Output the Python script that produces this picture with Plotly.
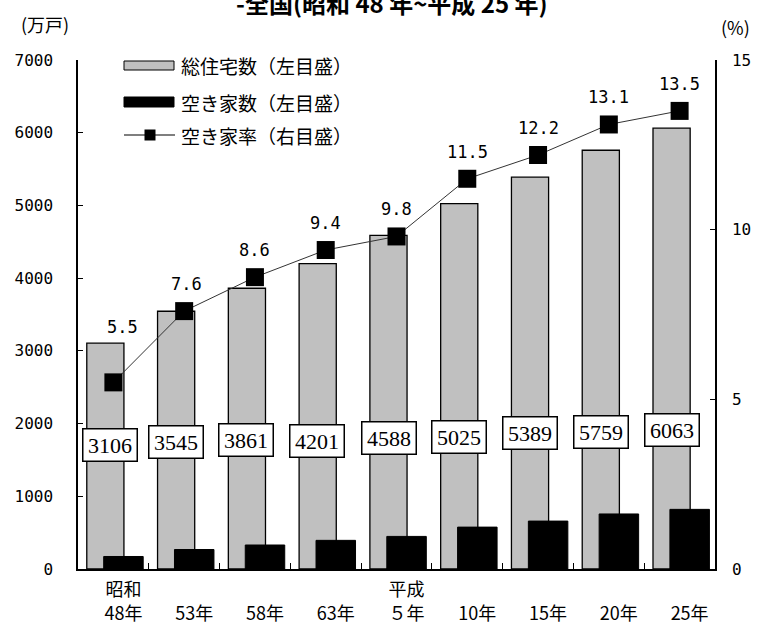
import plotly.graph_objects as go

# ---------------- data ----------------
categories = ["昭和48年", "昭和53年", "昭和58年", "昭和63年", "平成5年",
              "平成10年", "平成15年", "平成20年", "平成25年"]
tick_labels = ["昭和<br>48年", "\u3000<br>53年", "\u3000<br>58年", "\u3000<br>63年",
               "平成<br>５年", "\u3000<br>10年", "\u3000<br>15年", "\u3000<br>20年",
               "\u3000<br>25年"]
total_houses = [3106, 3545, 3861, 4201, 4588, 5025, 5389, 5759, 6063]      # 万戸
vacant_houses = [172, 268, 330, 394, 448, 576, 659, 757, 820]              # 万戸
vacancy_rate = [5.5, 7.6, 8.6, 9.4, 9.8, 11.5, 12.2, 13.1, 13.5]           # %

legend_names = ["総住宅数（左目盛）", "空き家数（左目盛）", "空き家率（右目盛）"]
title_text = "-全国(昭和 48 年~平成 25 年)"

# ---------------- style / placement ----------------
W, H = 758, 630
L, R, T, B = 78, 715, 60, 569          # plot area in pixels
box_label_level = [1709, 1744, 1774, 1760, 1801, 1819, 1873, 1881, 1918]  # left-axis units
box_label_xshift = [-3, -8, -9, -9, -8, -8, -8, -8, -8]
rate_label_yshift = [55, 27, 27, 27, 27, 27, 27, 27, 27]
rate_label_xshift = [9, 2, 0, 0, 0, 0, 0, 0, 0]

CJK = "Noto Sans CJK JP"
NUM = "DejaVu Sans Mono"
BOXFONT = "Liberation Sans Narrow, Liberation Serif"


def px(x):
    return (x - L) / (R - L)


def py(y):
    return (B - y) / (B - T)


fig = go.Figure()

fig.add_trace(go.Bar(
    x=categories, y=total_houses, name=legend_names[0],
    offset=-0.376, width=0.525,
    marker=dict(color="#c0c0c0", line=dict(color="black", width=1.3)),
    showlegend=False,
))
fig.add_trace(go.Bar(
    x=categories, y=vacant_houses, name=legend_names[1],
    offset=-0.137, width=0.558,
    marker=dict(color="black", line=dict(color="black", width=1)),
    showlegend=False,
))
fig.add_trace(go.Scatter(
    x=categories, y=vacancy_rate, name=legend_names[2], yaxis="y2",
    mode="lines+markers",
    line=dict(color="#333333", width=1),
    marker=dict(symbol="square", size=18, color="black"),
    showlegend=False,
))

annotations = []
# boxed total labels
for i, c in enumerate(categories):
    annotations.append(dict(
        x=c, y=box_label_level[i], xref="x", yref="y",
        xanchor="center", yanchor="middle",
        text=str(total_houses[i]), showarrow=False,
        xshift=box_label_xshift[i],
        font=dict(family=BOXFONT, size=22, color="black"),
        bgcolor="white", bordercolor="black", borderwidth=1.5,
        borderpad=3, width=47, height=25,
    ))
# rate labels
for i, c in enumerate(categories):
    annotations.append(dict(
        x=c, y=vacancy_rate[i], xref="x", yref="y2",
        xanchor="center", yanchor="middle",
        text=f"{vacancy_rate[i]:.1f}", showarrow=False,
        xshift=rate_label_xshift[i], yshift=rate_label_yshift[i],
        font=dict(family=NUM, size=17, color="black"),
    ))

# axis unit titles and chart title
annotations.append(dict(x=px(45), y=py(24), xref="paper", yref="paper",
                        xanchor="center", yanchor="middle",
                        text="(万戸)", showarrow=False,
                        font=dict(family=CJK, size=18, color="black")))
annotations.append(dict(x=px(735), y=py(27), xref="paper", yref="paper",
                        xanchor="center", yanchor="middle",
                        text="(%)", showarrow=False,
                        font=dict(family=CJK, size=18, color="black")))
annotations.append(dict(x=px(392), y=py(2), xref="paper", yref="paper",
                        xanchor="center", yanchor="middle",
                        text="<b>" + title_text + "</b>",
                        showarrow=False,
                        font=dict(family=CJK, size=24, color="black")))

# custom legend
shapes = []
legend_rows = [65, 102, 135]
shapes.append(dict(type="rect", xref="paper", yref="paper",
                   x0=px(124), x1=px(174), y0=py(70), y1=py(61),
                   fillcolor="#c0c0c0", line=dict(color="black", width=1)))
shapes.append(dict(type="rect", xref="paper", yref="paper",
                   x0=px(124), x1=px(174), y0=py(107), y1=py(97),
                   fillcolor="black", line=dict(color="black", width=1)))
shapes.append(dict(type="line", xref="paper", yref="paper",
                   x0=px(124), x1=px(175), y0=py(135), y1=py(135),
                   line=dict(color="black", width=1.2)))
shapes.append(dict(type="rect", xref="paper", yref="paper",
                   x0=px(144.5), x1=px(155.5), y0=py(140.5), y1=py(129.5),
                   fillcolor="black", line=dict(color="black", width=0)))
for name, yy in zip(legend_names, legend_rows):
    annotations.append(dict(x=px(179), y=py(yy), xref="paper", yref="paper",
                            xanchor="left", yanchor="middle",
                            text=name, showarrow=False,
                            font=dict(family=CJK, size=19, color="black")))

fig.update_layout(
    width=W, height=H,
    margin=dict(l=L, r=W - R, t=T, b=H - B, pad=0, autoexpand=False),
    paper_bgcolor="white", plot_bgcolor="white",
    barmode="overlay",
    showlegend=False,
    annotations=annotations,
    shapes=shapes,
    xaxis=dict(
        type="category", range=[-0.5, 8.5], automargin=False,
        tickvals=categories, ticktext=tick_labels,
        ticks="inside", tickson="boundaries", ticklen=6, tickcolor="black",
        showline=True, linecolor="black", linewidth=1.5,
        showgrid=False, zeroline=False,
        ticklabelshift=10, ticklabelstandoff=4,
        tickfont=dict(family=CJK, size=18, color="black"),
    ),
    yaxis=dict(
        range=[0, 7000], dtick=1000, tick0=0, automargin=False,
        ticks="inside", ticklen=5, tickcolor="black",
        showline=True, linecolor="black", linewidth=1.5,
        showgrid=False, zeroline=False,
        ticklabelstandoff=20,
        tickfont=dict(family=NUM, size=16, color="black"),
    ),
    yaxis2=dict(
        overlaying="y", side="right", automargin=False,
        range=[0, 15], dtick=5, tick0=0,
        ticks="inside", ticklen=5, tickcolor="black",
        showline=True, linecolor="black", linewidth=1.5,
        showgrid=False, zeroline=False,
        ticklabelstandoff=12,
        tickfont=dict(family=NUM, size=16, color="black"),
    ),
)

fig.write_html("out.html")
